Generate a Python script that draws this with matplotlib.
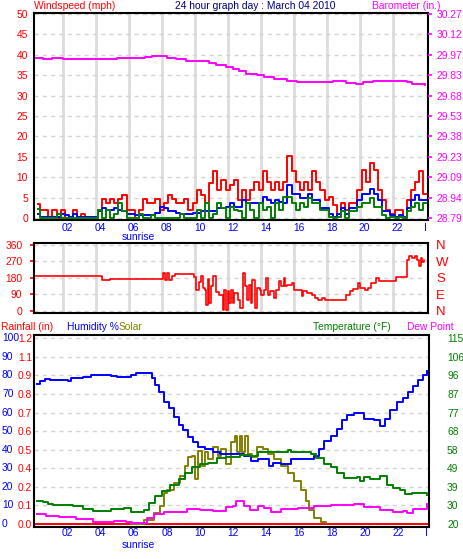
import numpy as np
import matplotlib
matplotlib.use("Agg")
import matplotlib.pyplot as plt
from matplotlib import transforms

plt.rcParams['font.family'] = ['Liberation Sans', 'DejaVu Sans']
FS = 7.4

# ---- data ----
# wind, sampled every 15 min from 00:30 to 24:00 (mph)
wind_hours = np.arange(0.5, 24.01, 0.25)
gust = [3.4, 2.0, 2.0, 0, 2.0, 0, 2.0, 0, 0, 2.0,
        0, 1.1, 0, 0, 0, 2.0, 4.6, 3.6, 4.6, 3.6,
        4.6, 5.7, 2.0, 2.0, 0, 2.0, 4.6, 3.6, 3.6, 4.6,
        2.0, 3.6, 5.7, 4.6, 3.6, 3.6, 4.6, 2.0, 3.6, 6.9,
        5.7, 3.6, 8.5, 11.6, 6.9, 9.2, 6.9, 8.1, 9.2, 4.4,
        6.9, 4.4, 6.9, 8.9, 6.9, 11.4, 8.9, 6.9, 8.9, 6.9,
        8.9, 15.1, 11.4, 8.9, 6.9, 8.9, 6.9, 11.4, 8.9, 6.9,
        4.4, 5.2, 3.2, 0.3, 3.6, 2.0, 3.6, 3.6, 6.9, 11.8,
        8.9, 13.4, 11.8, 6.9, 4.4, 2.0, 1.1, 2.0, 2.0, 0,
        4.4, 6.9, 8.9, 11.4, 6.0]
avg_speed = [1.0, 0.3, 0.3, 0.3, 0.3, 0.3, 1.0, 0.7, 0.3, 1.0,
             0.3, 0.3, 0.3, 0.3, 0.3, 1.6, 2.4, 2.0, 2.0, 2.4,
             2.0, 1.6, 1.1, 1.1, 0.7, 0.7, 0.7, 0.7, 0.7, 1.3,
             2.6, 2.4, 1.6, 1.6, 1.3, 1.0, 1.0, 1.0, 1.3, 1.3,
             1.8, 1.8, 1.7, 1.7, 2.4, 2.4, 2.8, 3.6, 2.8, 2.8,
             4.4, 3.6, 3.6, 3.6, 3.6, 5.2, 4.4, 3.6, 4.4, 4.0,
             3.6, 8.1, 6.0, 6.0, 4.8, 4.8, 6.0, 4.4, 4.4, 2.4,
             2.4, 1.1, 0.3, 1.1, 2.4, 1.1, 2.4, 2.4, 4.4, 6.0,
             6.0, 7.0, 6.0, 4.4, 1.6, 1.6, 0.7, 0.3, 0.7, 0.3,
             2.4, 4.4, 5.7, 4.4, 4.4]
low_speed = [2.1, 0, 0, 0, 0, 1.1, 0, 0, 0, 0,
             0, 0, 0, 0, 0, 2.0, 0, 2.0, 0, 1.1,
             3.6, 1.6, 0, 0, 0, 1.1, 0, 0, 0.7, 0,
             0, 0, 0, 0, 0, 1.1, 0, 0, 0, 2.0,
             0, 3.6, 0, 1.1, 3.6, 2.4, 0, 2.8, 2.0, 1.6,
             0, 3.6, 2.0, 0, 3.6, 2.0, 2.8, 0, 3.6, 2.0,
             5.2, 5.2, 3.6, 2.0, 3.6, 2.8, 4.8, 3.6, 3.6, 2.0,
             2.0, 0.3, 0, 0.3, 1.6, 0, 1.6, 1.6, 2.8, 3.6,
             3.6, 4.8, 2.8, 2.8, 0.7, 0, 0.3, 0, 0.3, 0,
             1.6, 2.8, 3.6, 2.0, 3.6]

baro_hours = [0.38, 0.83, 1.33, 2.04, 5.27, 6.99, 7.39, 8.3, 8.9, 9.5,
              10.9, 11.3, 11.9, 12.3, 12.7, 13.1, 13.8, 14.2, 14.8, 15.6,
              16.2, 18.4, 19.2, 19.8, 20.2, 20.8, 22.9, 23.2, 23.96]
baro = [29.949, 29.941, 29.949, 29.941, 29.949, 29.956, 29.965, 29.949, 29.941, 29.927,
        29.912, 29.898, 29.883, 29.869, 29.854, 29.837, 29.827, 29.815, 29.800, 29.781,
        29.774, 29.781, 29.769, 29.764, 29.774, 29.781, 29.774, 29.764, 29.757]
baro_ticks = [28.79, 28.94, 29.09, 29.23, 29.38, 29.53, 29.68, 29.83, 29.97, 30.12, 30.27]

dir_hours = [0.38, 4.36, 4.87, 8.1, 8.2, 8.3, 8.45, 8.6, 8.8, 9.3,
             9.95, 10.1, 10.25, 10.4, 10.5, 10.6, 10.7, 10.8, 10.9, 11.0,
             11.1, 11.2, 11.3, 11.5, 11.7, 11.8, 11.9, 12.0, 12.1, 12.2,
             12.3, 12.4, 12.6, 12.75, 12.95, 13.05, 13.15, 13.3, 13.4, 13.5,
             13.65, 13.8, 13.95, 14.05, 14.2, 14.35, 14.45, 14.6, 14.8, 14.95,
             15.1, 15.25, 15.4, 15.5, 15.6, 15.9, 16.05, 16.5, 16.6, 16.8,
             17.1, 17.3, 17.5, 17.7, 17.9, 19.2, 19.4, 19.6, 19.9, 20.0,
             20.3, 20.5, 20.7, 21.0, 21.2, 22.2, 22.9, 23.0, 23.2, 23.35,
             23.5, 23.6, 23.7, 23.8, 23.9]
wind_dir = [193, 169, 175, 207, 171, 207, 171, 189, 200, 204,
            185, 116, 156, 193, 128, 116, 35, 175, 44, 135,
            189, 193, 102, 89, 7, 116, 7, 107, 44, 116,
            44, 98, 62, 16, 207, 135, 62, 144, 44, 171,
            16, 125, 116, 89, 116, 180, 89, 107, 71, 116,
            162, 135, 180, 135, 144, 153, 116, 80, 107, 98,
            89, 71, 62, 71, 62, 89, 107, 120, 153, 125,
            116, 125, 153, 180, 162, 185, 280, 302, 289, 302,
            280, 244, 289, 265, 280]

hum_hours = [0.42, 0.6, 0.9, 1.2, 2.3, 2.5, 3.2, 3.7, 4.9, 5.3,
             6.1, 6.4, 7.3, 7.4, 7.6, 7.8, 8.1, 8.4, 8.7, 9.0,
             9.3, 9.6, 9.9, 10.2, 10.6, 11.1, 11.5, 12.1, 12.95, 13.4,
             13.8, 14.5, 14.7, 15.2, 15.8, 17.0, 17.2, 17.5, 17.8, 18.2,
             18.6, 18.9, 19.2, 19.6, 20.0, 20.2, 20.5, 20.8, 21.2, 21.5,
             21.8, 22.2, 22.6, 22.9, 23.2, 23.5, 23.8, 24.0]
humidity = [75.3, 76.7, 78.2, 77.6, 76.7, 78.5, 78.9, 80.0, 79.5, 78.9,
            80.0, 81.3, 81.3, 78.5, 74.9, 71.3, 65.8, 62.2, 57.6, 53.1,
            50.4, 46.7, 44.0, 41.3, 40.4, 38.5, 37.6, 37.6, 36.7, 34.0,
            34.9, 31.3, 33.1, 32.2, 34.9, 34.9, 36.7, 40.4, 44.9, 47.6,
            51.3, 55.8, 58.9, 59.5, 59.5, 56.7, 56.7, 55.8, 52.7, 56.7,
            61.3, 65.8, 67.6, 71.3, 74.0, 77.6, 80.4, 82.2]

temp_hours = [0.42, 0.8, 1.1, 1.4, 2.4, 2.6, 3.2, 3.8, 4.7, 4.9,
              5.5, 5.7, 6.1, 6.6, 6.9, 7.2, 7.6, 8.0, 8.5, 9.0,
              9.4, 9.8, 10.3, 10.8, 11.3, 11.9, 12.7, 13.3, 13.8, 14.4,
              15.4, 15.6, 15.8, 16.8, 17.0, 17.3, 17.8, 18.2, 18.6, 19.0,
              19.6, 19.8, 20.0, 20.2, 20.6, 21.0, 21.2, 21.6, 22.0, 22.4,
              22.7, 23.1, 24.0]
temperature = [31.9, 31.2, 30.2, 29.9, 29.9, 29.0, 27.6, 26.9, 26.9, 27.8,
               27.8, 28.1, 26.4, 26.0, 27.3, 30.7, 34.2, 36.7, 40.2, 42.8,
               46.2, 48.9, 50.6, 51.4, 53.5, 54.5, 55.2, 54.9, 56.6, 57.0,
               57.0, 57.8, 56.6, 56.6, 55.7, 54.0, 50.6, 48.9, 46.2, 43.7,
               43.7, 44.2, 41.9, 44.0, 43.2, 43.2, 44.5, 40.2, 38.5, 37.6,
               35.4, 35.9, 35.0]

dew_hours = [0.42, 1.0, 1.8, 2.8, 3.8, 5.1, 5.8, 6.2, 6.7, 7.1,
             7.5, 8.1, 8.9, 9.5, 10.3, 11.1, 11.9, 12.3, 12.5, 12.95,
             13.35, 13.8, 14.2, 14.6, 15.2, 16.2, 17.2, 18.2, 19.0, 19.6,
             20.2, 21.2, 22.0, 22.6, 22.8, 23.2, 24.0]
dew_point = [25.0, 24.3, 23.8, 22.4, 21.2, 21.7, 21.2, 20.4, 20.7, 22.9,
             25.2, 25.9, 26.0, 27.6, 27.3, 26.7, 28.5, 29.0, 31.6, 29.0,
             27.3, 29.0, 28.1, 26.4, 27.6, 28.1, 29.0, 29.5, 29.5, 30.2,
             28.5, 27.3, 26.4, 26.7, 25.5, 27.8, 30.2]

solar_hours = [6.1, 6.7, 6.9, 7.5, 7.9, 8.1, 8.3, 8.7, 9.1, 9.4,
               9.6, 9.8, 10.0, 10.2, 10.4, 10.6, 10.8, 11.1, 11.4, 11.6,
               11.9, 12.2, 12.4, 12.55, 12.7, 12.85, 13.0, 13.2, 13.45, 13.75,
               14.1, 14.4, 14.8, 15.2, 15.6, 16.0, 16.4, 16.7, 16.9, 17.2,
               17.6, 17.9]
solar = [0, 0, 2.2, 5.8, 9.5, 16.7, 18.5, 22.2, 25.8, 31.3,
         35.8, 36.7, 24.0, 39.5, 31.3, 38.5, 34.9, 41.3, 36.7, 40.4,
         32.2, 44.0, 47.6, 38.5, 47.6, 38.5, 47.6, 37.6, 35.8, 41.3,
         40.4, 37.6, 34.9, 31.3, 27.6, 23.1, 18.5, 12.4, 7.6, 3.1,
         1.3, 0.4]

rain_hours = [0.4, 24.0]
rainfall = [0.0, 0.0]

hum_ticks = [0, 10, 20, 30, 40, 50, 60, 70, 80, 90, 100]
rain_labels = ['0.0', '0.1', '0.2', '0.4', '0.5', '0.6', '0.7', '0.8', '0.9', '1.1', '1.2']
temp_labels = ['20', '30', '39', '49', '58', '68', '77', '87', '96', '106', '115']
dir_ticks = [0, 90, 180, 270, 360]
dir_names = ['N', 'E', 'S', 'W', 'N']
hour_ticks = [2, 4, 6, 8, 10, 12, 14, 16, 18, 20, 22]
hour_labels = ['02', '04', '06', '08', '10', '12', '14', '16', '18', '20', '22']
sunrise_hour = 6.6

# ---- figure ----
W, H = 463, 559
fig = plt.figure(figsize=(W / 100, H / 100), dpi=100)


def box(l, t, r, b):
    return [l / W, 1 - b / H, (r - l) / W, (b - t) / H]


def ftext(x, y, s, color, ha='left', size=FS):
    fig.text(x / W, 1 - y / H, s, color=color, ha=ha, va='center', fontsize=size)


XL = (0.23, 24.15)
GRIDC = '#dcdcdc'
DASH = (0, (3, 3))
LW = 1.4


def frame(ax):
    ax.set_xlim(XL)
    for s in ax.spines.values():
        s.set_linewidth(1.5)
        s.set_color('black')
    ax.set_axisbelow(True)


def hour_axis(ax, labels=True, vgrid=True, pad=2):
    ax.set_xticks(hour_ticks)
    ax.set_xticklabels([])
    ax.tick_params(axis='x', which='both', length=0)
    if vgrid:
        ax.grid(axis='x', which='major', color=GRIDC, lw=2, ls='-')
    if labels:
        pos = [h + 0.3 for h in hour_ticks] + [24.0]
        ax.set_xticks(pos, hour_labels + ['I'], minor=True)
        ax.tick_params(axis='x', which='minor', labelcolor='blue', labelsize=FS, pad=pad)
    ax.grid(axis='y', color='#d4d4d4', lw=1, ls=DASH)


def sunrise(ax, y):
    tr = transforms.blended_transform_factory(ax.transData, fig.transFigure)
    ax.text(sunrise_hour, 1 - y / H, 'sunrise', color='blue', fontsize=FS,
            ha='center', va='center', transform=tr)


# top: wind speed + barometer
ax1 = fig.add_axes(box(33.5, 13.3, 428, 220))
frame(ax1)
ax1.set_ylim(-0.49, 50.17)
ax1.set_yticks(range(0, 51, 5))
ax1.tick_params(axis='y', length=0, labelcolor='red', labelsize=FS, pad=4)
hour_axis(ax1)
ax1.plot(wind_hours, gust, color='red', lw=LW, drawstyle='steps-mid', zorder=3)
ax1.plot(wind_hours, avg_speed, color='blue', lw=LW, drawstyle='steps-mid', zorder=4)
ax1.plot(wind_hours, low_speed, color='green', lw=LW, drawstyle='steps-mid', zorder=5)
sunrise(ax1, 237)

ax1b = ax1.twinx()
span = baro_ticks[-1] - baro_ticks[0]
ax1b.set_ylim(baro_ticks[0] - 0.49 / 50 * span, baro_ticks[0] + 50.17 / 50 * span)
ax1b.set_yticks(np.linspace(baro_ticks[0], baro_ticks[-1], 11), [f'{v:.2f}' for v in baro_ticks])
ax1b.tick_params(axis='y', length=3, width=1.2, color='magenta', labelcolor='magenta',
                 labelsize=FS, pad=3)
for s in ax1b.spines.values():
    s.set_visible(False)
ax1b.plot(baro_hours, baro, color='magenta', lw=LW, drawstyle='steps-post')

# middle: wind direction
ax2 = fig.add_axes(box(33.5, 242.7, 428, 312.7))
frame(ax2)
ax2.set_ylim(-9.3, 372.5)
ax2.set_yticks(dir_ticks)
ax2.tick_params(axis='y', length=3, width=1.2, color='red', labelcolor='red',
                labelsize=FS, pad=5)
hour_axis(ax2, labels=False)
ax2.plot(dir_hours, wind_dir, color='red', lw=1.2, drawstyle='steps-post')
ax2b = ax2.twinx()
ax2b.set_ylim(-9.3, 372.5)
ax2b.set_yticks(dir_ticks, dir_names)
ax2b.tick_params(axis='y', length=0, labelcolor='red', labelsize=9.5, pad=6)
for s in ax2b.spines.values():
    s.set_visible(False)

# bottom: humidity / rain / solar / temperature / dew point
ax3 = fig.add_axes(box(33.5, 335, 429, 527))
frame(ax3)
ax3.set_ylim(-1.6, 101.7)
ax3.set_yticks(hum_ticks, rain_labels)
ax3.tick_params(axis='y', length=0, labelcolor='red', labelsize=FS, pad=1)
hour_axis(ax3, vgrid=False, pad=1)
ax3.plot(rain_hours, [r * 100 / 1.2 for r in rainfall], color='red', lw=LW)
ax3.plot(solar_hours, solar, color='#808000', lw=LW, drawstyle='steps-post')
ax3.plot(hum_hours, humidity, color='blue', lw=LW, drawstyle='steps-post', zorder=4)
tr = transforms.blended_transform_factory(fig.transFigure, ax3.transData)
for v in hum_ticks:
    ax3.text(2 / W, v, str(v), color='blue', fontsize=FS, ha='left', va='center',
             transform=tr)
sunrise(ax3, 545)

ax3b = ax3.twinx()
ax3b.set_ylim(20 - 1.6 * 0.95, 20 + 101.7 * 0.95)
ax3b.set_yticks([20 + 9.5 * i for i in range(11)], temp_labels)
ax3b.tick_params(axis='y', length=0, labelcolor='green', labelsize=FS, pad=13)
for s in ax3b.spines.values():
    s.set_visible(False)
ax3b.plot(temp_hours, temperature, color='green', lw=LW, drawstyle='steps-post')
ax3b.plot(dew_hours, dew_point, color='magenta', lw=LW, drawstyle='steps-post')

# header texts
ftext(34, 6, 'Windspeed (mph)', 'red')
ftext(255, 6, '24 hour graph day : March 04 2010', '#000080', ha='center')
ftext(372, 6, 'Barometer (in.)', 'magenta')
ftext(1, 327, 'Rainfall (in)', 'red')
ftext(67, 327, 'Humidity %', 'blue')
ftext(119, 327, 'Solar', '#808000')
ftext(313, 327, 'Temperature (°F)', 'green')
ftext(407, 327, 'Dew Point', 'magenta')

fig.savefig('out.png', dpi=100)
